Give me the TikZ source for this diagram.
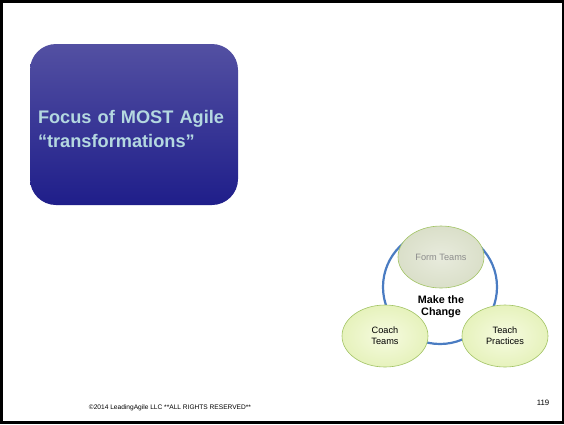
\documentclass[tikz,border=0pt]{standalone}
\usepackage{fontspec}
\setmainfont{Liberation Sans}
\usepackage{xcolor}
\usepackage{tikz}
\usetikzlibrary{shapes.geometric}
\definecolor{boxtop}{HTML}{5350A2}
\definecolor{boxbot}{HTML}{1F1E8A}
\definecolor{boxtext}{HTML}{B4D8E0}
\definecolor{ringcol}{HTML}{4A7CC2}
\definecolor{leafin}{HTML}{F6FBE0}
\definecolor{leafout}{HTML}{E6F2BC}
\definecolor{leafline}{HTML}{A2C464}
\definecolor{greyin}{HTML}{E8EBDD}
\definecolor{greyout}{HTML}{DADFC9}
\definecolor{greytext}{HTML}{8C8C8C}

\begin{document}
\begin{tikzpicture}[x=1pt,y=-1pt,
  focus/.style={rounded corners=26pt,top color=boxtop,bottom color=boxbot,
            minimum width=208pt,minimum height=161pt,text width=192pt,
            align=left,inner sep=8pt,text=boxtext,text height=21.6pt,
            font=\fontsize{18.2}{24}\selectfont\bfseries},
  leaf/.style={ellipse,draw=leafline,line width=0.6pt,inner color=leafin,
            outer color=leafout,minimum width=86pt,minimum height=62pt,
            align=center,inner sep=0pt,font=\fontsize{9.2}{11}\selectfont},
  faded/.style={leaf,inner color=greyin,outer color=greyout,text=greytext},
  ring/.style={circle,draw=ringcol,line width=2.2pt,minimum size=114pt,inner sep=0pt},
]
\useasboundingbox (0,0) rectangle (564,424);
\fill[white] (0,0) rectangle (564,424);
\draw[line width=2.6pt] (1.3,1.2) rectangle (562.8,422.7);

% left box
\node[focus] (focus) at (134,124.5) {Focus of MOST Agile\\ ``transformations''};

% cycle
\node[ring] (cycle) at (440,287) {};
\node[font=\fontsize{10.8}{12.4}\selectfont\bfseries,align=center] (change) at (441,307)
  {Make the\\ Change};
\node[faded] (form) at (441,257) {Form Teams};
\node[leaf] (coach) at (385,336) {Coach\\ Teams};
\node[leaf] (teach) at (505,336) {Teach\\ Practices};

% footer
\node[font=\fontsize{6.6}{7}\selectfont] (copy) at (170,408)
  {\textcopyright2014 LeadingAgile LLC **ALL RIGHTS RESERVED**};
\node[font=\fontsize{7.8}{9}\selectfont] (page) at (543,403) {119};
\end{tikzpicture}
\end{document}
